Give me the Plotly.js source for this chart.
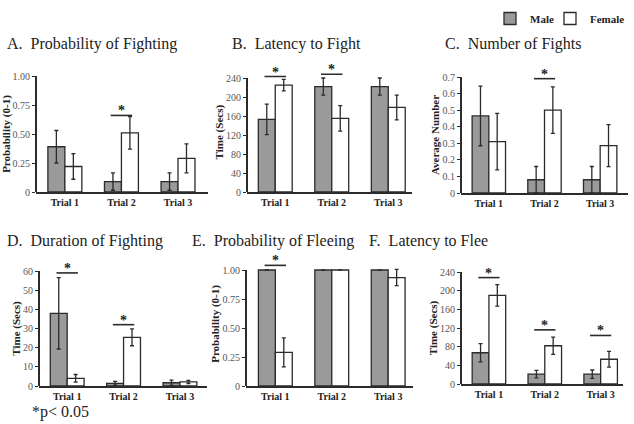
<!DOCTYPE html>
<html>
<head>
<meta charset="utf-8">
<script src="https://cdn.plot.ly/plotly-3.0.1.min.js"></script>
<style>html,body{margin:0;padding:0;background:#fff;}#chart{width:634px;height:424px;}</style>
</head>
<body>
<div id="chart"></div>
<script>
// ---- data ----
const trials = ["Trial 1", "Trial 2", "Trial 3"];

const fightProbMale = [0.39, 0.09, 0.09];
const fightProbMaleErr = [0.14, 0.075, 0.075];
const fightProbFemale = [0.22, 0.51, 0.29];
const fightProbFemaleErr = [0.11, 0.14, 0.125];

const fightLatencyMale = [153, 222, 222];
const fightLatencyMaleErr = [32, 18, 18];
const fightLatencyFemale = [225, 155, 178];
const fightLatencyFemaleErr = [12, 27, 26];

const fightCountMale = [0.465, 0.08, 0.08];
const fightCountMaleErr = [0.18, 0.08, 0.08];
const fightCountFemale = [0.31, 0.50, 0.286];
const fightCountFemaleErr = [0.17, 0.14, 0.127];

const fightDurationMale = [37.9, 1.4, 1.7];
const fightDurationMaleErr = [18.6, 1.0, 1.4];
const fightDurationFemale = [4.0, 25.4, 2.1];
const fightDurationFemaleErr = [2.0, 4.4, 0.8];

const fleeProbMale = [1.0, 1.0, 1.0];
const fleeProbMaleErr = [0, 0, 0];
const fleeProbFemale = [0.29, 1.0, 0.935];
const fleeProbFemaleErr = [0.125, 0, 0.07];

const fleeLatencyMale = [67, 21, 21];
const fleeLatencyMaleErr = [19.5, 8, 9];
const fleeLatencyFemale = [190, 82, 53];
const fleeLatencyFemaleErr = [23, 18.5, 17];

// significant differences: trial index and height of the bracket
const sigA = [[1, 0.66]];
const sigB = [[0, 243], [1, 248]];
const sigC = [[1, 0.69]];
const sigD = [[0, 59], [1, 32]];
const sigE = [[0, 1.04]];
const sigF = [[0, 228], [1, 116], [2, 104]];

const probTicks = [0, 0.25, 0.5, 0.75, 1];
const probTickText = ["0", "0.25", "0.50", "0.75", "1.00"];
const timeTicks = [0, 40, 80, 120, 160, 200, 240];
const countTicks = [0, 0.1, 0.2, 0.3, 0.4, 0.5, 0.6, 0.7];
const countTickText = ["0", "0.1", "0.2", "0.3", "0.4", "0.5", "0.6", "0.7"];
const durationTicks = [0, 10, 20, 30, 40, 50, 60];

// ---- layout helpers ----
const W = 634, H = 424;
const SERIF = "Liberation Serif";
const panels = [
  {title: "A.  Probability of Fighting", tx: 5, ty: 44, ytitle: "Probability (0-1)",
   m: fightProbMale, me: fightProbMaleErr, f: fightProbFemale, fe: fightProbFemaleErr,
   px: [36, 208], py: [76, 192], yr: [0, 1], xr: [-0.51, 2.53], tv: probTicks, tt: probTickText, sig: sigA},
  {title: "B.  Latency to Fight", tx: 230, ty: 44, ytitle: "Time (Secs)",
   m: fightLatencyMale, me: fightLatencyMaleErr, f: fightLatencyFemale, fe: fightLatencyFemaleErr,
   px: [247, 412], py: [78, 192], yr: [0, 240], ext: 252, xr: [-0.5, 2.42], tv: timeTicks, tt: timeTicks.map(String), sig: sigB},
  {title: "C.  Number of Fights", tx: 443, ty: 44, ytitle: "Average Number",
   m: fightCountMale, me: fightCountMaleErr, f: fightCountFemale, fe: fightCountFemaleErr,
   px: [461, 628], py: [77, 193], yr: [0, 0.7], xr: [-0.5, 2.5], tv: countTicks, tt: countTickText, sig: sigC},
  {title: "D.  Duration of Fighting", tx: 5, ty: 241, ytitle: "Time (Secs)",
   m: fightDurationMale, me: fightDurationMaleErr, f: fightDurationFemale, fe: fightDurationFemaleErr,
   px: [39, 207], py: [271, 386], yr: [0, 60], xr: [-0.5, 2.48], tv: durationTicks, tt: durationTicks.map(String), sig: sigD},
  {title: "E.  Probability of Fleeing", tx: 190, ty: 241, ytitle: "Probability (0-1)",
   m: fleeProbMale, me: fleeProbMaleErr, f: fleeProbFemale, fe: fleeProbFemaleErr,
   px: [246, 413], py: [270, 386], yr: [0, 1], ext: 1.07, xr: [-0.52, 2.44], tv: probTicks, tt: probTickText, sig: sigE},
  {title: "F.  Latency to Flee", tx: 367, ty: 241, ytitle: "Time (Secs)",
   m: fleeLatencyMale, me: fleeLatencyMaleErr, f: fleeLatencyFemale, fe: fleeLatencyFemaleErr,
   px: [461, 623], py: [272, 384], yr: [0, 240], xr: [-0.5, 2.4], tv: timeTicks, tt: timeTicks.map(String), sig: sigF}
];

const MALE = "#9a9a9a", EDGE = "#2b2b2b";
const traces = [], shapes = [], annotations = [];
const legendBase = {orientation: "h", y: 1 - 4 / H, xanchor: "left", yanchor: "top",
  font: {family: SERIF, size: 11, weight: "bold", color: "#222"}, bgcolor: "rgba(0,0,0,0)",
  itemwidth: 30, tracegroupgap: 0};
const layout = {
  width: W, height: H, margin: {l: 0, r: 0, t: 0, b: 0, autoexpand: false},
  paper_bgcolor: "#fff", plot_bgcolor: "rgba(0,0,0,0)",
  barmode: "group", bargap: 0.4, bargroupgap: 0,
  font: {family: SERIF, color: "#222"},
  showlegend: true,
  legend: Object.assign({x: 490 / W}, legendBase),
  legend2: Object.assign({x: 550 / W}, legendBase)
};

panels.forEach((p, i) => {
  const s = i === 0 ? "" : String(i + 1);
  const xa = "x" + s, ya = "y" + s;
  const scale = (p.py[1] - p.py[0]) / (p.yr[1] - p.yr[0]);
  const top = p.ext ? p.ext : p.yr[1];
  const pyTop = p.py[1] - (top - p.yr[0]) * scale;
  const errStyle = {type: "data", visible: true, color: EDGE, thickness: 1.3, width: 2};
  traces.push({type: "bar", name: "Male", x: trials, y: p.m, xaxis: xa, yaxis: ya,
    marker: {color: MALE, line: {color: EDGE, width: 1.3}},
    error_y: Object.assign({array: p.me}, errStyle), showlegend: i === 0, legend: "legend"});
  traces.push({type: "bar", name: "Female", x: trials, y: p.f, xaxis: xa, yaxis: ya,
    marker: {color: "#ffffff", line: {color: EDGE, width: 1.3}},
    error_y: Object.assign({array: p.fe}, errStyle), showlegend: i === 0, legend: "legend2"});
  layout["xaxis" + s] = {
    domain: [p.px[0] / W, p.px[1] / W], anchor: ya, type: "category", range: p.xr,
    showline: true, linecolor: EDGE, linewidth: 2, ticks: "", showgrid: false, zeroline: false,
    tickfont: {family: SERIF, size: 10, weight: "bold", color: "#222"}, fixedrange: true
  };
  layout["yaxis" + s] = {
    domain: [1 - p.py[1] / H, 1 - pyTop / H], anchor: xa, range: [p.yr[0], top],
    showline: false, showgrid: false, zeroline: false,
    ticks: "outside", ticklen: 3, tickwidth: 1, tickcolor: EDGE,
    tickvals: p.tv, ticktext: p.tt,
    tickfont: {family: SERIF, size: 10, color: "#555"},
    title: {text: p.ytitle, font: {family: SERIF, size: 11, weight: "bold", color: "#222"}, standoff: 0},
    fixedrange: true
  };
  // y axis line up to the top tick
  shapes.push({type: "line", xref: xa + " domain", yref: ya, x0: 0, x1: 0, y0: p.yr[0], y1: p.yr[1],
    line: {color: EDGE, width: 2}, layer: "above"});
  // significance brackets
  p.sig.forEach(([k, h]) => {
    shapes.push({type: "line", xref: xa, yref: ya, x0: k - 0.19, x1: k + 0.19, y0: h, y1: h,
      line: {color: EDGE, width: 1.6}});
    annotations.push({xref: xa, yref: ya, x: k, y: h, text: "*", showarrow: false,
      yanchor: "bottom", yshift: -5, font: {family: SERIF, size: 14, weight: "bold", color: "#222"}});
  });
  annotations.push({xref: "paper", yref: "paper", x: p.tx / W, y: 1 - p.ty / H, xanchor: "left", yanchor: "middle",
    text: p.title, showarrow: false, font: {family: SERIF, size: 16, color: "#222"}});
});

annotations.push({xref: "paper", yref: "paper", x: 30 / W, y: 1 - 412 / H, xanchor: "left", yanchor: "middle",
  text: "*p< 0.05", showarrow: false, font: {family: SERIF, size: 16, color: "#222"}});

layout.shapes = shapes;
layout.annotations = annotations;

Plotly.newPlot("chart", traces, layout, {displayModeBar: false, staticPlot: true});
</script>
</body>
</html>
